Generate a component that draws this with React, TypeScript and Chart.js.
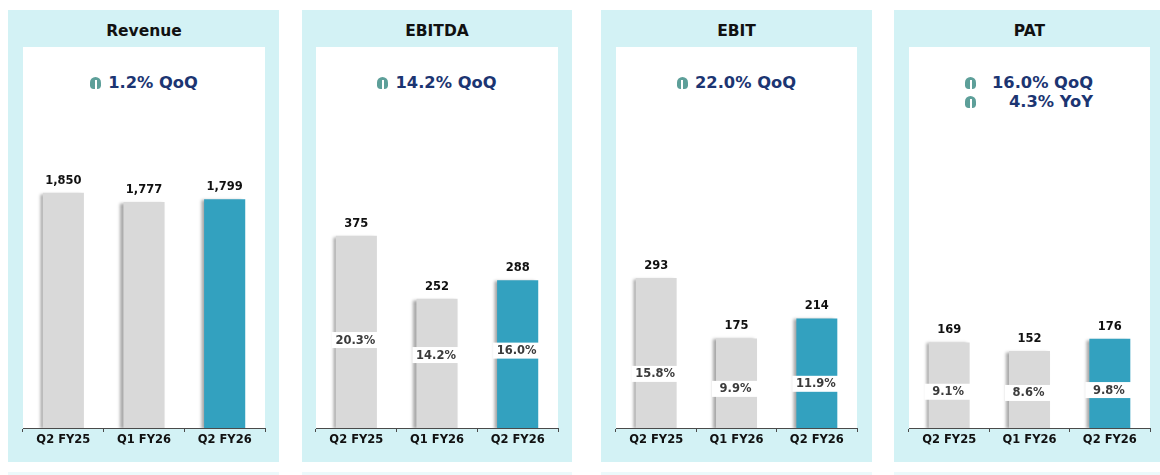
import React, { useEffect, useRef } from "react";
import { Chart, registerables } from "chart.js";
Chart.register(...registerables);

const categories = ["Q2 FY25", "Q1 FY26", "Q2 FY26"];
const panelTitles = ["Revenue", "EBITDA", "EBIT", "PAT"];
const revenueValues = [1850, 1777, 1799];
const ebitdaValues = [375, 252, 288];
const ebitValues = [293, 175, 214];
const patValues = [169, 152, 176];
const ebitdaMargins = [20.3, 14.2, 16.0];
const ebitMargins = [15.8, 9.9, 11.9];
const patMargins = [9.1, 8.6, 9.8];
const revenueGrowth = ["1.2% QoQ"];
const ebitdaGrowth = ["14.2% QoQ"];
const ebitGrowth = ["22.0% QoQ"];
const patGrowth = ["16.0% QoQ", "4.3% YoY"];

const FONT = "'DejaVu Sans', Verdana, sans-serif";
const CYAN = "#d3f2f5";
const NAVY = "#1c3572";
const TEAL_ICON = "#5d9f99";
const GRAY_BAR = "#d9d9d9";
const TEAL_BAR = "#33a1bf";
const barColors = [GRAY_BAR, GRAY_BAR, TEAL_BAR];

type PanelCfg = {
  title: string;
  values: number[];
  margins: number[] | null;
  growth: string[];
  yMax: number;
  y1Min: number;
  y1Max: number;
  cyanX: number;
  cyanW: number;
  whiteX: number;
  whiteW: number;
};

const panels: PanelCfg[] = [
  { title: panelTitles[0], values: revenueValues, margins: null, growth: revenueGrowth, yMax: 2995, y1Min: 0, y1Max: 100, cyanX: 8, cyanW: 271, whiteX: 23, whiteW: 242 },
  { title: panelTitles[1], values: ebitdaValues, margins: ebitdaMargins, growth: ebitdaGrowth, yMax: 743, y1Min: -15.45, y1Max: 139.4, cyanX: 302, cyanW: 270, whiteX: 316, whiteW: 242 },
  { title: panelTitles[2], values: ebitValues, margins: ebitMargins, growth: ebitGrowth, yMax: 744, y1Min: -5.5, y1Max: 144.5, cyanX: 601, cyanW: 271, whiteX: 616, whiteW: 241 },
  { title: panelTitles[3], values: patValues, margins: patMargins, growth: patGrowth, yMax: 752, y1Min: -6.0, y1Max: 152.7, cyanX: 894, cyanW: 270, whiteX: 909, whiteW: 241 },
];

const labelPlugin = {
  id: "barLabels",
  beforeDatasetDraw(chart: any, args: any) {
    if (args.index === 0) {
      const ctx = chart.ctx;
      ctx.save();
      ctx.shadowColor = "rgba(0,0,0,0.35)";
      ctx.shadowOffsetX = -3;
      ctx.shadowOffsetY = 1;
      ctx.shadowBlur = 3;
    }
  },
  afterDatasetDraw(chart: any, args: any) {
    if (args.index === 0) chart.ctx.restore();
  },
  afterDatasetsDraw(chart: any) {
    const ctx = chart.ctx;
    const barMeta = chart.getDatasetMeta(0);
    const vals = chart.data.datasets[0].data;
    ctx.save();
    ctx.textAlign = "center";
    ctx.textBaseline = "middle";
    ctx.font = `bold 11.5px ${FONT}`;
    ctx.fillStyle = "#111";
    barMeta.data.forEach((bar: any, i: number) => {
      ctx.fillText(Number(vals[i]).toLocaleString("en-US"), bar.x, bar.y - 12);
    });
    if (chart.data.datasets.length > 1) {
      const mMeta = chart.getDatasetMeta(1);
      const mVals = chart.data.datasets[1].data;
      mMeta.data.forEach((pt: any, i: number) => {
        const bar = barMeta.data[i];
        const w = bar.width;
        const left = bar.x - w / 2 - 4;
        const right = bar.x + w / 2 + 1;
        ctx.fillStyle = "#ffffff";
        ctx.fillRect(left, pt.y - 8, right - left, 16);
        ctx.fillStyle = "#3b3b3b";
        ctx.font = `bold 11.5px ${FONT}`;
        ctx.fillText(Number(mVals[i]).toFixed(1) + "%", bar.x - 1, pt.y + 0.5);
      });
    }
    ctx.restore();
  },
};

function Icon() {
  return (
    <span
      style={{
        display: "inline-block",
        position: "relative",
        width: 11,
        height: 12,
        borderRadius: "6px 6px 4px 4px",
        background: TEAL_ICON,
        verticalAlign: "middle",
      }}
    >
      <span
        style={{
          position: "absolute",
          left: 4.5,
          top: 3,
          width: 2,
          height: 9,
          background: "#fff",
        }}
      />
    </span>
  );
}

function Panel({ cfg }: { cfg: PanelCfg }) {
  const ref = useRef<HTMLCanvasElement>(null);
  useEffect(() => {
    if (!ref.current) return;
    const datasets: any[] = [
      {
        type: "bar",
        data: cfg.values,
        backgroundColor: barColors,
        borderWidth: 0,
        barPercentage: 0.51,
        categoryPercentage: 1,
        yAxisID: "y",
        order: 1,
      },
    ];
    if (cfg.margins) {
      datasets.push({
        type: "line",
        data: cfg.margins,
        yAxisID: "y1",
        showLine: false,
        pointRadius: 0,
        pointHoverRadius: 0,
        order: 0,
      });
    }
    const chart = new Chart(ref.current, {
      type: "bar",
      data: { labels: categories, datasets },
      options: {
        responsive: false,
        maintainAspectRatio: false,
        animation: false,
        events: [],
        layout: { padding: { left: 4, right: 4, top: 0, bottom: 0 } },
        plugins: { legend: { display: false }, tooltip: { enabled: false } },
        scales: {
          x: {
            grid: {
              display: true,
              drawOnChartArea: false,
              drawTicks: true,
              tickLength: 4,
              color: "#4a4a4a",
              offset: true,
            },
            border: { display: true, color: "#4a4a4a", width: 1 },
            ticks: {
              color: "#111",
              font: { family: FONT, weight: "bold", size: 11.5 },
              padding: 1,
              maxRotation: 0,
              autoSkip: false,
            },
            afterFit: (s: any) => {
              s.height = 34;
            },
          },
          y: { display: false, min: 0, max: cfg.yMax },
          y1: { display: false, min: cfg.y1Min, max: cfg.y1Max },
        },
      } as any,
      plugins: [labelPlugin],
    });
    return () => chart.destroy();
  }, [cfg]);

  const canvasLeft = cfg.whiteX - 4;
  const canvasW = cfg.whiteW + 8;
  const twoLine = cfg.growth.length > 1;
  return (
    <>
      <div style={{ position: "absolute", left: cfg.cyanX, top: 10, width: cfg.cyanW, height: 452, background: CYAN }} />
      <div style={{ position: "absolute", left: cfg.cyanX, top: 472, width: cfg.cyanW, height: 3, background: "#ecf9fb" }} />
      <div style={{ position: "absolute", left: cfg.whiteX, top: 47, width: cfg.whiteW, height: 381, background: "#fff" }} />
      <div
        style={{
          position: "absolute",
          left: cfg.whiteX,
          top: 22,
          width: cfg.whiteW,
          height: 18,
          lineHeight: "18px",
          textAlign: "center",
          fontFamily: FONT,
          fontWeight: "bold",
          fontSize: 15.5,
          color: "#111",
        }}
      >
        {cfg.title}
      </div>
      {!twoLine ? (
        <div
          style={{
            position: "absolute",
            left: cfg.whiteX,
            top: 72,
            width: cfg.whiteW,
            height: 20,
            lineHeight: "20px",
            textAlign: "center",
            fontFamily: FONT,
            fontWeight: "bold",
            fontSize: 16.3,
            color: NAVY,
            whiteSpace: "nowrap",
          }}
        >
          <Icon />
          <span style={{ marginLeft: 7, verticalAlign: "middle" }}>{cfg.growth[0]}</span>
        </div>
      ) : (
        <div
          style={{
            position: "absolute",
            left: cfg.whiteX + 56,
            top: 73,
            width: 128,
            fontFamily: FONT,
            fontWeight: "bold",
            fontSize: 16.3,
            color: NAVY,
          }}
        >
          {cfg.growth.map((g, i) => (
            <div key={i} style={{ display: "flex", alignItems: "center", justifyContent: "space-between", height: 19, lineHeight: "19px" }}>
              <Icon />
              <span style={{ whiteSpace: "nowrap" }}>{g}</span>
            </div>
          ))}
        </div>
      )}
      <canvas
        ref={ref}
        width={canvasW}
        height={415}
        style={{ position: "absolute", left: canvasLeft, top: 47, width: canvasW, height: 415 }}
      />
    </>
  );
}

export default function App() {
  return (
    <div
      style={{
        position: "fixed",
        left: 0,
        top: 0,
        width: 1160,
        height: 475,
        background: "#fff",
        overflow: "hidden",
      }}
    >
      {panels.map((p, i) => (
        <Panel key={i} cfg={p} />
      ))}
    </div>
  );
}
